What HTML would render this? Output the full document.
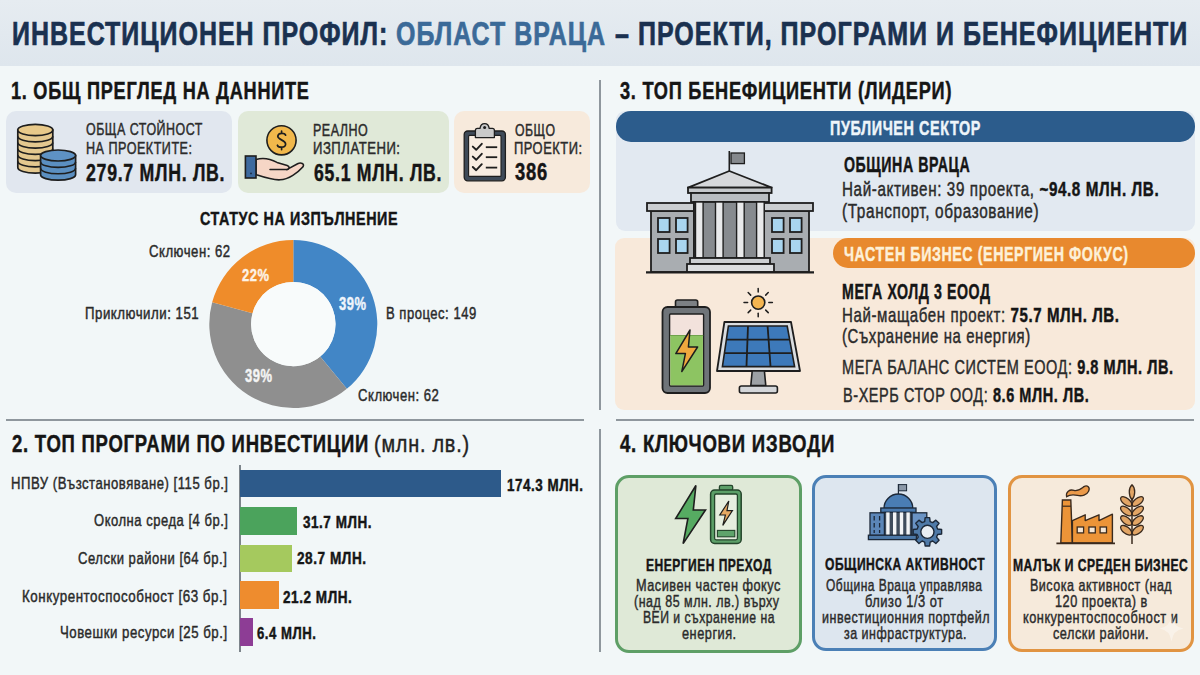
<!DOCTYPE html>
<html><head><meta charset="utf-8"><style>
*{margin:0;padding:0;box-sizing:border-box}
html,body{width:1200px;height:675px;overflow:hidden;background:#f2f7f8}
body{position:relative;font-family:"Liberation Sans",sans-serif}
.t{position:absolute;white-space:nowrap;transform-origin:0 0;-webkit-text-stroke-width:0.45px}
.r{position:absolute}
svg{position:absolute;left:0;top:0}
</style></head><body>
<div class="r" style="left:0;top:0;width:1200px;height:66px;background:linear-gradient(#e6ecf1,#dee6ed)"></div><div class="r" style="left:6px;top:111px;width:226px;height:82px;border-radius:10px;background:#e1e7ef"></div><div class="r" style="left:238px;top:111px;width:211px;height:82px;border-radius:10px;background:#e0e9d8"></div><div class="r" style="left:454px;top:111px;width:136px;height:82px;border-radius:10px;background:#f7eadc"></div><div class="r" style="left:599px;top:80px;width:2px;height:330px;background:#8f979d"></div><div class="r" style="left:599px;top:429px;width:2px;height:223px;background:#8f979d"></div><div class="r" style="left:6px;top:419px;width:578px;height:2px;background:#8f979d"></div><div class="r" style="left:616px;top:419px;width:578px;height:2px;background:#8f979d"></div><div class="r" style="left:616px;top:111px;width:579px;height:120px;border-radius:9px;background:#e2e9f1"></div><div class="r" style="left:615px;top:238px;width:580px;height:172px;border-radius:9px;background:#f8e9da"></div><div class="r" style="left:616px;top:111px;width:579px;height:30.5px;border-radius:15px;background:#2c5c8c"></div><div class="r" style="left:833px;top:238px;width:362px;height:30px;border-radius:15px;background:#e8892e"></div><div class="r" style="left:615px;top:475px;width:187px;height:178px;border-radius:14px;background:#dfe9d7;border:3px solid #5e9f66"></div><div class="r" style="left:812px;top:475px;width:185px;height:176px;border-radius:14px;background:#dde6ef;border:3px solid #4b80b6"></div><div class="r" style="left:1008px;top:475px;width:186px;height:177px;border-radius:14px;background:#f6eadb;border:3px solid #e19442"></div><div class="r" style="left:239px;top:465px;width:1.5px;height:187px;background:#7d858b"></div><div class="r" style="left:240px;top:470px;width:261px;height:27px;background:#2d5a8a"></div><div class="r" style="left:240px;top:507px;width:57px;height:28px;background:#4ba35c"></div><div class="r" style="left:240px;top:545px;width:52px;height:27px;background:#a5c95e"></div><div class="r" style="left:240px;top:581px;width:39px;height:28px;background:#ee8c2e"></div><div class="r" style="left:240px;top:618px;width:12.5px;height:27.5px;background:#8d3d95"></div><svg width="1200" height="675" viewBox="0 0 1200 675"><path d="M293.30 240.10A84.00 84.00 0 0 1 346.84 388.82L320.20 356.62A42.20 42.20 0 0 0 293.30 281.90Z" fill="#4286c6"/><path d="M346.84 388.82A84.00 84.00 0 0 1 212.16 302.36L252.54 313.18A42.20 42.20 0 0 0 320.20 356.62Z" fill="#8f8f8f"/><path d="M212.16 302.36A84.00 84.00 0 0 1 293.30 240.10L293.30 281.90A42.20 42.20 0 0 0 252.54 313.18Z" fill="#ef8c2a"/><circle cx="293.30" cy="324.10" r="42.20" fill="#f8fbfb"/><path d="M17.80 130.00 L17.80 167.50 A17.50 5.60 0 0 0 52.80 167.50 L52.80 130.00 Z" fill="#e4c88f" stroke="#1e1e1e" stroke-width="1.7"/><path d="M17.80 136.25 A17.50 5.60 0 0 0 52.80 136.25" fill="none" stroke="#1e1e1e" stroke-width="1.6"/><path d="M17.80 142.50 A17.50 5.60 0 0 0 52.80 142.50" fill="none" stroke="#1e1e1e" stroke-width="1.6"/><path d="M17.80 148.75 A17.50 5.60 0 0 0 52.80 148.75" fill="none" stroke="#1e1e1e" stroke-width="1.6"/><path d="M17.80 155.00 A17.50 5.60 0 0 0 52.80 155.00" fill="none" stroke="#1e1e1e" stroke-width="1.6"/><path d="M17.80 161.25 A17.50 5.60 0 0 0 52.80 161.25" fill="none" stroke="#1e1e1e" stroke-width="1.6"/><ellipse cx="35.30" cy="130.00" rx="17.50" ry="5.60" fill="#e8c98a" stroke="#1e1e1e" stroke-width="1.7"/><path d="M40.60 155.50 L40.60 174.70 A17.50 5.50 0 0 0 75.60 174.70 L75.60 155.50 Z" fill="#5b8fc1" stroke="#1e1e1e" stroke-width="1.7"/><path d="M40.60 161.90 A17.50 5.50 0 0 0 75.60 161.90" fill="none" stroke="#1e1e1e" stroke-width="1.6"/><path d="M40.60 168.30 A17.50 5.50 0 0 0 75.60 168.30" fill="none" stroke="#1e1e1e" stroke-width="1.6"/><ellipse cx="58.10" cy="155.50" rx="17.50" ry="5.50" fill="#5e92c4" stroke="#1e1e1e" stroke-width="1.7"/><circle cx="281.5" cy="140.3" r="14.6" fill="#f1b84b" stroke="#1e1e1e" stroke-width="1.6"/><path d="M285.6 135.2C285 132.6 278.2 132.4 277.8 136.2C277.4 139.8 285.8 140 285.6 144.2C285.4 148 278.2 148 277.4 145.2M281.6 131.2V133.2M281.6 147.6V149.6" fill="none" stroke="#1e1e1e" stroke-width="1.7" stroke-linecap="round"/><path d="M256 159.5C263 157.4 270 158.6 277 162.4L287.2 165.6C290 166.6 289.6 169.6 286.8 169.6L297.6 163.8C301 162 304.8 163.8 303 166.8C298 172.6 288.6 179.4 280 179.8C272 180.2 262 176.6 256 174.6Z" fill="#f6d6c6" stroke="#1e1e1e" stroke-width="1.6" stroke-linejoin="round"/><path d="M270 169.4L287 169.6" stroke="#1e1e1e" stroke-width="1.5" stroke-linecap="round"/><rect x="245.4" y="156" width="10.6" height="22" fill="#3e6a9e" stroke="#1e1e1e" stroke-width="1.6"/><circle cx="251" cy="173.4" r="0.9" fill="#1a2a40"/><rect x="464.2" y="131" width="41.2" height="49.8" rx="3.5" fill="#3e4a58" stroke="#1e1e1e" stroke-width="1.3"/><rect x="468.6" y="135.4" width="32.4" height="41" rx="1" fill="#f8ede2" stroke="#1e1e1e" stroke-width="1.1"/><path d="M475.4 137.6V130.4C475.4 129.2 476.2 128.4 477.4 128.4H480C480.4 125.4 482.2 123.6 484.6 123.6C487 123.6 488.8 125.4 489.2 128.4H492.4C493.6 128.4 494.4 129.2 494.4 130.4V137.6Z" fill="#c9c9c9" stroke="#1e1e1e" stroke-width="1.3" stroke-linejoin="round"/><circle cx="484.6" cy="127.6" r="1.5" fill="#1e1e1e"/><path d="M472.8 146.6L476.2 149.8L481.8 143.8" fill="none" stroke="#1e1e1e" stroke-width="1.9" stroke-linejoin="round" stroke-linecap="round"/><path d="M485.8 147.2H497.2" stroke="#1e1e1e" stroke-width="1.8"/><path d="M472.8 156.6L476.2 159.8L481.8 153.8" fill="none" stroke="#1e1e1e" stroke-width="1.9" stroke-linejoin="round" stroke-linecap="round"/><path d="M485.8 157.2H497.2" stroke="#1e1e1e" stroke-width="1.8"/><path d="M472.8 167.0L476.2 170.2L481.8 164.2" fill="none" stroke="#1e1e1e" stroke-width="1.9" stroke-linejoin="round" stroke-linecap="round"/><path d="M485.8 167.6H497.2" stroke="#1e1e1e" stroke-width="1.8"/><path d="M729.3 171V151" stroke="#1e1e1e" stroke-width="1.6"/><rect x="731" y="153" width="13.4" height="10.6" fill="#85898d" stroke="#1e1e1e" stroke-width="1.3"/><path d="M729.3 171L688 187.6H771.6Z" fill="#d6d8db" stroke="#1e1e1e" stroke-width="1.8" stroke-linejoin="round"/><rect x="688" y="187.6" width="83.6" height="5.4" fill="#c5c8cb" stroke="#1e1e1e" stroke-width="1.8"/><rect x="691" y="193" width="78" height="9" fill="#b9bdc1" stroke="#1e1e1e" stroke-width="1.8"/><rect x="651" y="211" width="43" height="61" fill="#a9adb1" stroke="#1e1e1e" stroke-width="1.8"/><rect x="764" y="211" width="45" height="61" fill="#a9adb1" stroke="#1e1e1e" stroke-width="1.8"/><rect x="647" y="203" width="47" height="8" fill="#cbced1" stroke="#1e1e1e" stroke-width="1.8"/><rect x="764" y="203" width="49" height="8" fill="#cbced1" stroke="#1e1e1e" stroke-width="1.8"/><rect x="694" y="202" width="70" height="56" fill="#878b8f" stroke="#1e1e1e" stroke-width="1.8"/><rect x="695.5" y="202" width="7.6" height="56" fill="#e9eaeb" stroke="#1e1e1e" stroke-width="1.4"/><rect x="715.5" y="202" width="7.6" height="56" fill="#e9eaeb" stroke="#1e1e1e" stroke-width="1.4"/><rect x="736.6" y="202" width="7.6" height="56" fill="#e9eaeb" stroke="#1e1e1e" stroke-width="1.4"/><rect x="756.6" y="202" width="7.6" height="56" fill="#e9eaeb" stroke="#1e1e1e" stroke-width="1.4"/><rect x="690" y="258" width="80" height="6" fill="#cdd0d3" stroke="#1e1e1e" stroke-width="1.8"/><rect x="687" y="264" width="87" height="8" fill="#dcdee0" stroke="#1e1e1e" stroke-width="1.8"/><rect x="658" y="218" width="11.6" height="14" fill="#a9d5ef" stroke="#1e1e1e" stroke-width="1.8"/><rect x="658" y="239" width="11.6" height="14" fill="#a9d5ef" stroke="#1e1e1e" stroke-width="1.8"/><rect x="676" y="218" width="11.6" height="14" fill="#a9d5ef" stroke="#1e1e1e" stroke-width="1.8"/><rect x="676" y="239" width="11.6" height="14" fill="#a9d5ef" stroke="#1e1e1e" stroke-width="1.8"/><rect x="772" y="218" width="11.6" height="14" fill="#a9d5ef" stroke="#1e1e1e" stroke-width="1.8"/><rect x="772" y="239" width="11.6" height="14" fill="#a9d5ef" stroke="#1e1e1e" stroke-width="1.8"/><rect x="790" y="218" width="11.6" height="14" fill="#a9d5ef" stroke="#1e1e1e" stroke-width="1.8"/><rect x="790" y="239" width="11.6" height="14" fill="#a9d5ef" stroke="#1e1e1e" stroke-width="1.8"/><path d="M646 272.4H814" stroke="#1e1e1e" stroke-width="2.2"/><rect x="675.5" y="300" width="22.2" height="8" rx="2" fill="#7c8084" stroke="#1e1e1e" stroke-width="1.6"/><rect x="662.5" y="307" width="47.5" height="86" rx="5" fill="#6f7479" stroke="#1e1e1e" stroke-width="1.8"/><rect x="669.6" y="314" width="34" height="72" rx="1" fill="#f2e2dc" stroke="#1e1e1e" stroke-width="1.4"/><rect x="670.3" y="335.5" width="32.6" height="49.8" fill="#8dc462"/><path d="M670 335.5H703.2" stroke="#6fa24c" stroke-width="1"/><path d="M690 330L675.8 353.6H685.4L681.8 371.6L697.6 347H688.4Z" fill="#f0a83e" stroke="#1e1e1e" stroke-width="1.5" stroke-linejoin="round"/><circle cx="758.2" cy="302.6" r="6.6" fill="#f4b550" stroke="#1e1e1e" stroke-width="1.6"/><path d="M758.20 292.00L758.20 288.40" stroke="#1e1e1e" stroke-width="1.5" stroke-linecap="round"/><path d="M765.70 295.10L768.24 292.56" stroke="#1e1e1e" stroke-width="1.5" stroke-linecap="round"/><path d="M768.80 302.60L772.40 302.60" stroke="#1e1e1e" stroke-width="1.5" stroke-linecap="round"/><path d="M765.70 310.10L768.24 312.64" stroke="#1e1e1e" stroke-width="1.5" stroke-linecap="round"/><path d="M758.20 313.20L758.20 316.80" stroke="#1e1e1e" stroke-width="1.5" stroke-linecap="round"/><path d="M750.70 310.10L748.16 312.64" stroke="#1e1e1e" stroke-width="1.5" stroke-linecap="round"/><path d="M747.60 302.60L744.00 302.60" stroke="#1e1e1e" stroke-width="1.5" stroke-linecap="round"/><path d="M750.70 295.10L748.16 292.56" stroke="#1e1e1e" stroke-width="1.5" stroke-linecap="round"/><path d="M724.4 322H791L800 371H717Z" fill="#dadde0" stroke="#1e1e1e" stroke-width="1.8" stroke-linejoin="round"/><path d="M728.4 326H787.2L794.6 366.6H722.4Z" fill="#3d79ba" stroke="#1e1e1e" stroke-width="1.6"/><path d="M726.40 339.53H789.67" stroke="#1e1e1e" stroke-width="1.8"/><path d="M748.00 326L746.47 366.6" stroke="#1e1e1e" stroke-width="1.8"/><path d="M724.40 353.07H792.13" stroke="#1e1e1e" stroke-width="1.8"/><path d="M767.60 326L770.53 366.6" stroke="#1e1e1e" stroke-width="1.8"/><path d="M752.2 371H764.4L765.8 385.6H750.8Z" fill="#9da1a5" stroke="#1e1e1e" stroke-width="1.6"/><rect x="739.4" y="386" width="38" height="7" rx="2" fill="#d4d6d9" stroke="#1e1e1e" stroke-width="1.6"/><path d="M695.9 485.5L675.7 518.5H687.9L683.1 543.6L705.5 510H693.3Z" fill="#56ab62" stroke="#1e1e1e" stroke-width="1.6" stroke-linejoin="miter"/><rect x="719.4" y="485.4" width="13.3" height="5" rx="1.5" fill="#5c9f68" stroke="#24452b" stroke-width="1.3"/><rect x="710.6" y="490" width="30.6" height="53.4" rx="4" fill="#5c9f68" stroke="#24452b" stroke-width="1.5"/><rect x="714.6" y="494" width="22.8" height="45.8" rx="1.5" fill="#e6eedf" stroke="#24452b" stroke-width="1.3"/><rect x="717.4" y="530.4" width="17.4" height="6.4" fill="#5fa46b" stroke="#24452b" stroke-width="1.1"/><path d="M728.8 501L719.8 515H725.4L722.8 525.4L732.4 510.6H727Z" fill="#e6a963" stroke="#1e1e1e" stroke-width="1.2" stroke-linejoin="miter"/><path d="M898.4 498V484" stroke="#1c2838" stroke-width="1.2"/><rect x="898.6" y="484.6" width="8" height="6.2" fill="#8b98a8" stroke="#1c2838" stroke-width="1"/><path d="M884 508.4A14.4 14.4 0 0 1 912.8 508.4Z" fill="#4a7db4" stroke="#1c2838" stroke-width="1.4"/><rect x="870" y="512.8" width="14.6" height="22.6" fill="#5b86b8" stroke="#1c2838" stroke-width="1.3"/><rect x="911.8" y="512.8" width="15" height="22.6" fill="#6a93c4" stroke="#1c2838" stroke-width="1.3"/><path d="M874.2 516V520.4M874.2 523V527.4M874.2 530V533" stroke="#1c2838" stroke-width="1.3"/><path d="M879.6 516V520.4M879.6 523V527.4M879.6 530V533" stroke="#1c2838" stroke-width="1.3"/><rect x="880.8" y="508" width="35.2" height="4.4" fill="#4a79ad" stroke="#1c2838" stroke-width="1.3"/><rect x="884.4" y="512.4" width="27.4" height="23" fill="#3f4c5c" stroke="#1c2838" stroke-width="1.2"/><rect x="886.2" y="512.4" width="3.4" height="23" fill="#f2f4f6"/><rect x="893.0" y="512.4" width="3.4" height="23" fill="#f2f4f6"/><rect x="899.8" y="512.4" width="3.4" height="23" fill="#f2f4f6"/><rect x="906.4" y="512.4" width="3.4" height="23" fill="#f2f4f6"/><rect x="868.4" y="535.2" width="48" height="4.4" fill="#4d79a8" stroke="#1c2838" stroke-width="1.3"/><path d="M924.66 521.56L925.15 517.58L929.65 517.58L930.14 521.56L932.70 522.62L935.86 520.15L939.05 523.34L936.58 526.50L937.64 529.06L941.62 529.55L941.62 534.05L937.64 534.54L936.58 537.10L939.05 540.26L935.86 543.45L932.70 540.98L930.14 542.04L929.65 546.02L925.15 546.02L924.66 542.04L922.10 540.98L918.94 543.45L915.75 540.26L918.22 537.10L917.16 534.54L913.18 534.05L913.18 529.55L917.16 529.06L918.22 526.50L915.75 523.34L918.94 520.15L922.10 522.62Z" fill="#4f7aa8" stroke="#1c2838" stroke-width="1.4" stroke-linejoin="round"/><circle cx="927.40" cy="531.80" r="6.6" fill="#e9eef3" stroke="#1c2838" stroke-width="1.4"/><path d="M1066.6 496.6C1065.6 492 1069.6 489 1074 490.4C1078 491.6 1081.4 488.4 1084 486.6C1087.4 484.6 1090.4 487.6 1088.6 491.2C1086.8 495 1082 496.4 1077.6 495.4C1073 494.4 1069.6 494.6 1066.6 496.6Z" fill="#eb9a4a" stroke="#3a2a1e" stroke-width="1.3"/><path d="M1062.4 500H1070.8L1072.4 543H1060.8Z" fill="#ec9438" stroke="#3a2a1e" stroke-width="1.4"/><path d="M1062.2 506.2H1071" stroke="#3a2a1e" stroke-width="1.2"/><path d="M1072.4 520.6L1085.2 514.8V520.6L1099 514.8V520.6L1112.4 514.2V543H1072.4Z" fill="#ec9438" stroke="#3a2a1e" stroke-width="1.4" stroke-linejoin="round"/><rect x="1077.2" y="527" width="6.4" height="5.9" fill="#f6e7d6" stroke="#3a2a1e" stroke-width="1.3"/><rect x="1088.9" y="527" width="6.4" height="5.9" fill="#f6e7d6" stroke="#3a2a1e" stroke-width="1.3"/><rect x="1100.1" y="527" width="6.4" height="5.9" fill="#f6e7d6" stroke="#3a2a1e" stroke-width="1.3"/><path d="M1056.4 543.4H1115" stroke="#3a2a1e" stroke-width="1.6"/><path d="M1132 484.8C1135.6 488 1135.6 496 1132 500C1128.4 496 1128.4 488 1132 484.8Z" fill="#e2a565" stroke="#3a2a1e" stroke-width="1.3"/><ellipse cx="1126.2" cy="501.5" rx="6.6" ry="3.3" transform="rotate(38 1126.2 501.5)" fill="#e2a565" stroke="#3a2a1e" stroke-width="1.3"/><ellipse cx="1137.8" cy="501.5" rx="6.6" ry="3.3" transform="rotate(-38 1137.8 501.5)" fill="#e2a565" stroke="#3a2a1e" stroke-width="1.3"/><ellipse cx="1126.2" cy="511.0" rx="6.6" ry="3.3" transform="rotate(38 1126.2 511.0)" fill="#e2a565" stroke="#3a2a1e" stroke-width="1.3"/><ellipse cx="1137.8" cy="511.0" rx="6.6" ry="3.3" transform="rotate(-38 1137.8 511.0)" fill="#e2a565" stroke="#3a2a1e" stroke-width="1.3"/><ellipse cx="1126.2" cy="520.6" rx="6.6" ry="3.3" transform="rotate(38 1126.2 520.6)" fill="#e2a565" stroke="#3a2a1e" stroke-width="1.3"/><ellipse cx="1137.8" cy="520.6" rx="6.6" ry="3.3" transform="rotate(-38 1137.8 520.6)" fill="#e2a565" stroke="#3a2a1e" stroke-width="1.3"/><ellipse cx="1126.2" cy="530.2" rx="6.6" ry="3.3" transform="rotate(38 1126.2 530.2)" fill="#e2a565" stroke="#3a2a1e" stroke-width="1.3"/><ellipse cx="1137.8" cy="530.2" rx="6.6" ry="3.3" transform="rotate(-38 1137.8 530.2)" fill="#e2a565" stroke="#3a2a1e" stroke-width="1.3"/><path d="M1132 498V544" stroke="#3a2a1e" stroke-width="1.5"/></svg>
<div class="t" style="left:12.20px;top:17.23px;font-size:33.14px;line-height:33.14px;letter-spacing:0.040em;transform:scaleX(0.7539);color:#1a3150;-webkit-text-stroke-width:0.7px"><span style="font-weight:700">ИНВЕСТИЦИОНЕН ПРОФИЛ:</span></div>
<div class="t" style="left:395.70px;top:17.23px;font-size:33.14px;line-height:33.14px;letter-spacing:0.040em;transform:scaleX(0.7533);color:#3b6a98;-webkit-text-stroke-width:0.7px"><span style="font-weight:700">ОБЛАСТ ВРАЦА</span></div>
<div class="t" style="left:614.50px;top:17.23px;font-size:33.14px;line-height:33.14px;letter-spacing:0.040em;transform:scaleX(0.7560);color:#1a3150;-webkit-text-stroke-width:0.7px"><span style="font-weight:700">– ПРОЕКТИ, ПРОГРАМИ И БЕНЕФИЦИЕНТИ</span></div>
<div class="t" style="left:11.20px;top:78.94px;font-size:24.13px;line-height:24.13px;letter-spacing:0.040em;transform:scaleX(0.7523);color:#151515;"><span style="font-weight:700">1. ОБЩ ПРЕГЛЕД НА ДАННИТЕ</span></div>
<div class="t" style="left:619.50px;top:78.94px;font-size:24.13px;line-height:24.13px;letter-spacing:0.040em;transform:scaleX(0.7550);color:#151515;"><span style="font-weight:700">3. ТОП БЕНЕФИЦИЕНТИ (ЛИДЕРИ)</span></div>
<div class="t" style="left:11.64px;top:431.66px;font-size:24.13px;line-height:24.13px;letter-spacing:0.040em;transform:scaleX(0.7678);color:#151515;"><span style="font-weight:700">2. ТОП ПРОГРАМИ ПО ИНВЕСТИЦИИ</span></div>
<div class="t" style="left:373.70px;top:431.66px;font-size:24.13px;line-height:24.13px;letter-spacing:0.040em;transform:scaleX(0.8211);color:#222;"><span style="font-weight:400">(млн. лв.)</span></div>
<div class="t" style="left:619.50px;top:431.66px;font-size:24.13px;line-height:24.13px;letter-spacing:0.040em;transform:scaleX(0.7718);color:#151515;"><span style="font-weight:700">4. КЛЮЧОВИ ИЗВОДИ</span></div>
<div class="t" style="left:86.42px;top:121.28px;font-size:16.28px;line-height:16.28px;letter-spacing:0.040em;transform:scaleX(0.7654);color:#2b2b2b;"><span style="font-weight:400">ОБЩА СТОЙНОСТ</span></div>
<div class="t" style="left:85.62px;top:141.43px;font-size:15.70px;line-height:15.70px;letter-spacing:0.040em;transform:scaleX(0.8018);color:#2b2b2b;"><span style="font-weight:400">НА ПРОЕКТИТЕ:</span></div>
<div class="t" style="left:86.25px;top:160.64px;font-size:24.13px;line-height:24.13px;letter-spacing:0.040em;transform:scaleX(0.7346);color:#151515;"><span style="font-weight:700">279.7 МЛН. ЛВ.</span></div>
<div class="t" style="left:312.95px;top:121.50px;font-size:16.28px;line-height:16.28px;letter-spacing:0.040em;transform:scaleX(0.7687);color:#2b2b2b;"><span style="font-weight:400">РЕАЛНО</span></div>
<div class="t" style="left:312.95px;top:141.43px;font-size:15.70px;line-height:15.70px;letter-spacing:0.040em;transform:scaleX(0.8348);color:#2b2b2b;"><span style="font-weight:400">ИЗПЛАТЕНИ:</span></div>
<div class="t" style="left:313.75px;top:160.64px;font-size:24.13px;line-height:24.13px;letter-spacing:0.040em;transform:scaleX(0.7319);color:#151515;"><span style="font-weight:700">65.1 МЛН. ЛВ.</span></div>
<div class="t" style="left:514.53px;top:121.72px;font-size:16.28px;line-height:16.28px;letter-spacing:0.040em;transform:scaleX(0.7545);color:#2b2b2b;"><span style="font-weight:400">ОБЩО</span></div>
<div class="t" style="left:513.73px;top:140.22px;font-size:16.28px;line-height:16.28px;letter-spacing:0.040em;transform:scaleX(0.7920);color:#2b2b2b;"><span style="font-weight:400">ПРОЕКТИ:</span></div>
<div class="t" style="left:514.53px;top:161.27px;font-size:23.55px;line-height:23.55px;letter-spacing:0.040em;transform:scaleX(0.7804);color:#151515;"><span style="font-weight:700">386</span></div>
<div class="t" style="left:200.00px;top:209.53px;font-size:18.90px;line-height:18.90px;letter-spacing:0.040em;transform:scaleX(0.7597);color:#151515;"><span style="font-weight:700">СТАТУС НА ИЗПЪЛНЕНИЕ</span></div>
<div class="t" style="left:149.00px;top:244.29px;font-size:15.70px;line-height:15.70px;letter-spacing:0.040em;transform:scaleX(0.8373);color:#2b2b2b;"><span style="font-weight:400">Сключен: 62</span></div>
<div class="t" style="left:85.34px;top:306.03px;font-size:15.84px;line-height:15.84px;letter-spacing:0.040em;transform:scaleX(0.8355);color:#2b2b2b;"><span style="font-weight:400">Приключили: 151</span></div>
<div class="t" style="left:385.56px;top:304.58px;font-size:16.28px;line-height:16.28px;letter-spacing:0.040em;transform:scaleX(0.8011);color:#2b2b2b;"><span style="font-weight:400">В процес: 149</span></div>
<div class="t" style="left:358.14px;top:388.33px;font-size:15.99px;line-height:15.99px;letter-spacing:0.040em;transform:scaleX(0.8190);color:#2b2b2b;"><span style="font-weight:400">Сключен: 62</span></div>
<div class="t" style="left:242.00px;top:268.15px;font-size:16.72px;line-height:16.72px;letter-spacing:0.040em;transform:scaleX(0.7747);color:#fdf3e6;"><span style="font-weight:700">22%</span></div>
<div class="t" style="left:338.64px;top:296.04px;font-size:17.44px;line-height:17.44px;letter-spacing:0.040em;transform:scaleX(0.7433);color:#eef4fb;"><span style="font-weight:700">39%</span></div>
<div class="t" style="left:245.00px;top:367.68px;font-size:17.44px;line-height:17.44px;letter-spacing:0.040em;transform:scaleX(0.7433);color:#f4f4f4;"><span style="font-weight:700">39%</span></div>
<div class="t" style="left:11.20px;top:475.61px;font-size:16.86px;line-height:16.86px;letter-spacing:0.040em;transform:scaleX(0.7771);color:#2a2a2a;"><span style="font-weight:400">НПВУ (Възстановяване) [115 бр.]</span></div>
<div class="t" style="left:94.00px;top:513.41px;font-size:16.57px;line-height:16.57px;letter-spacing:0.040em;transform:scaleX(0.7856);color:#2a2a2a;"><span style="font-weight:400">Околна среда [4 бр.]</span></div>
<div class="t" style="left:78.14px;top:550.10px;font-size:16.42px;line-height:16.42px;letter-spacing:0.040em;transform:scaleX(0.7946);color:#2a2a2a;"><span style="font-weight:400">Селски райони [64 бр.]</span></div>
<div class="t" style="left:22.34px;top:588.61px;font-size:16.86px;line-height:16.86px;letter-spacing:0.040em;transform:scaleX(0.7918);color:#2a2a2a;"><span style="font-weight:400">Конкурентоспособност [63 бр.]</span></div>
<div class="t" style="left:60.26px;top:625.25px;font-size:16.86px;line-height:16.86px;letter-spacing:0.040em;transform:scaleX(0.7840);color:#2a2a2a;"><span style="font-weight:400">Човешки ресурси [25 бр.]</span></div>
<div class="t" style="left:506.70px;top:476.54px;font-size:17.01px;line-height:17.01px;letter-spacing:0.040em;transform:scaleX(0.7881);color:#151515;"><span style="font-weight:700">174.3 МЛН.</span></div>
<div class="t" style="left:302.50px;top:513.64px;font-size:16.28px;line-height:16.28px;letter-spacing:0.040em;transform:scaleX(0.8288);color:#151515;"><span style="font-weight:700">31.7 МЛН.</span></div>
<div class="t" style="left:296.86px;top:550.28px;font-size:16.28px;line-height:16.28px;letter-spacing:0.040em;transform:scaleX(0.8359);color:#151515;"><span style="font-weight:700">28.7 МЛН.</span></div>
<div class="t" style="left:283.14px;top:588.58px;font-size:16.28px;line-height:16.28px;letter-spacing:0.040em;transform:scaleX(0.8323);color:#151515;"><span style="font-weight:700">21.2 МЛН.</span></div>
<div class="t" style="left:257.00px;top:624.86px;font-size:16.28px;line-height:16.28px;letter-spacing:0.040em;transform:scaleX(0.8088);color:#151515;"><span style="font-weight:700">6.4 МЛН.</span></div>
<div class="t" style="left:829.72px;top:117.71px;font-size:20.64px;line-height:20.64px;letter-spacing:0.040em;transform:scaleX(0.6986);color:#eef5fa;"><span style="font-weight:700">ПУБЛИЧЕН СЕКТОР</span></div>
<div class="t" style="left:843.86px;top:154.32px;font-size:21.22px;line-height:21.22px;letter-spacing:0.040em;transform:scaleX(0.6676);color:#151515;"><span style="font-weight:700">ОБЩИНА ВРАЦА</span></div>
<div class="t" style="left:842.26px;top:180.47px;font-size:19.77px;line-height:19.77px;letter-spacing:0.040em;transform:scaleX(0.7693);color:#2b2b2b;"><span style="font-weight:400">Най-активен: 39 проекта, </span><span style="font-weight:700;color:#151515">~94.8 МЛН. ЛВ.</span></div>
<div class="t" style="left:842.26px;top:201.95px;font-size:19.77px;line-height:19.77px;letter-spacing:0.040em;transform:scaleX(0.7760);color:#2b2b2b;"><span style="font-weight:400">(Транспорт, образование)</span></div>
<div class="t" style="left:843.86px;top:244.58px;font-size:19.33px;line-height:19.33px;letter-spacing:0.040em;transform:scaleX(0.7371);color:#fdf0d8;"><span style="font-weight:700">ЧАСТЕН БИЗНЕС (ЕНЕРГИЕН ФОКУС)</span></div>
<div class="t" style="left:842.26px;top:281.28px;font-size:21.22px;line-height:21.22px;letter-spacing:0.040em;transform:scaleX(0.6683);color:#151515;"><span style="font-weight:700">МЕГА ХОЛД 3 ЕООД</span></div>
<div class="t" style="left:842.26px;top:305.16px;font-size:20.06px;line-height:20.06px;letter-spacing:0.040em;transform:scaleX(0.7496);color:#2b2b2b;"><span style="font-weight:400">Най-мащабен проект: </span><span style="font-weight:700;color:#151515">75.7 МЛН. ЛВ.</span></div>
<div class="t" style="left:842.26px;top:325.98px;font-size:20.06px;line-height:20.06px;letter-spacing:0.040em;transform:scaleX(0.7434);color:#2b2b2b;"><span style="font-weight:400">(Съхранение на енергия)</span></div>
<div class="t" style="left:842.26px;top:356.74px;font-size:20.06px;line-height:20.06px;letter-spacing:0.040em;transform:scaleX(0.7222);color:#2b2b2b;"><span style="font-weight:400">МЕГА БАЛАНС СИСТЕМ ЕООД: </span><span style="font-weight:700;color:#151515">9.8 МЛН. ЛВ.</span></div>
<div class="t" style="left:843.34px;top:385.42px;font-size:20.20px;line-height:20.20px;letter-spacing:0.040em;transform:scaleX(0.7168);color:#2b2b2b;"><span style="font-weight:400">В-ХЕРБ СТОР ООД: </span><span style="font-weight:700;color:#151515">8.6 МЛН. ЛВ.</span></div>
<div class="t" style="left:645.70px;top:556.64px;font-size:17.15px;line-height:17.15px;letter-spacing:0.040em;transform:scaleX(0.7026);color:#151515;"><span style="font-weight:700">ЕНЕРГИЕН ПРЕХОД</span></div>
<div class="t" style="left:635.70px;top:577.85px;font-size:16.57px;line-height:16.57px;letter-spacing:0.040em;transform:scaleX(0.7677);color:#2b2b2b;"><span style="font-weight:400">Масивен частен фокус</span></div>
<div class="t" style="left:634.26px;top:592.60px;font-size:17.01px;line-height:17.01px;letter-spacing:0.040em;transform:scaleX(0.7337);color:#2b2b2b;"><span style="font-weight:400">(над 85 млн. лв.) върху</span></div>
<div class="t" style="left:642.56px;top:608.82px;font-size:17.01px;line-height:17.01px;letter-spacing:0.040em;transform:scaleX(0.7169);color:#2b2b2b;"><span style="font-weight:400">ВЕИ и съхранение на</span></div>
<div class="t" style="left:682.36px;top:624.96px;font-size:17.01px;line-height:17.01px;letter-spacing:0.040em;transform:scaleX(0.7506);color:#2b2b2b;"><span style="font-weight:400">енергия.</span></div>
<div class="t" style="left:824.75px;top:556.20px;font-size:17.15px;line-height:17.15px;letter-spacing:0.040em;transform:scaleX(0.7063);color:#151515;"><span style="font-weight:700">ОБЩИНСКА АКТИВНОСТ</span></div>
<div class="t" style="left:825.50px;top:577.85px;font-size:16.57px;line-height:16.57px;letter-spacing:0.040em;transform:scaleX(0.7232);color:#2b2b2b;"><span style="font-weight:400">Община Враца управлява</span></div>
<div class="t" style="left:864.56px;top:592.60px;font-size:17.01px;line-height:17.01px;letter-spacing:0.040em;transform:scaleX(0.7591);color:#2b2b2b;"><span style="font-weight:400">близо 1/3 от</span></div>
<div class="t" style="left:821.70px;top:608.82px;font-size:17.01px;line-height:17.01px;letter-spacing:0.040em;transform:scaleX(0.7371);color:#2b2b2b;"><span style="font-weight:400">инвестиционния портфейл</span></div>
<div class="t" style="left:843.50px;top:624.96px;font-size:17.01px;line-height:17.01px;letter-spacing:0.040em;transform:scaleX(0.7332);color:#2b2b2b;"><span style="font-weight:400">за инфраструктура.</span></div>
<div class="t" style="left:1013.48px;top:556.66px;font-size:17.30px;line-height:17.30px;letter-spacing:0.040em;transform:scaleX(0.7002);color:#151515;"><span style="font-weight:700">МАЛЪК И СРЕДЕН БИЗНЕС</span></div>
<div class="t" style="left:1029.84px;top:577.85px;font-size:16.57px;line-height:16.57px;letter-spacing:0.040em;transform:scaleX(0.7564);color:#2b2b2b;"><span style="font-weight:400">Висока активност (над</span></div>
<div class="t" style="left:1054.70px;top:592.60px;font-size:17.01px;line-height:17.01px;letter-spacing:0.040em;transform:scaleX(0.7468);color:#2b2b2b;"><span style="font-weight:400">120 проекта) в</span></div>
<div class="t" style="left:1022.62px;top:608.82px;font-size:17.01px;line-height:17.01px;letter-spacing:0.040em;transform:scaleX(0.7498);color:#2b2b2b;"><span style="font-weight:400">конкурентоспособност и</span></div>
<div class="t" style="left:1052.72px;top:624.96px;font-size:17.01px;line-height:17.01px;letter-spacing:0.040em;transform:scaleX(0.7480);color:#2b2b2b;"><span style="font-weight:400">селски райони.</span></div>
<svg width="1200" height="675" viewBox="0 0 1200 675"><path d="M1171.5 615.5Q1173.0 627.0 1183.5 628.5Q1173.0 630.0 1171.5 641.5Q1170.0 630.0 1159.5 628.5Q1170.0 627.0 1171.5 615.5Z" fill="#ffffff" opacity="0.4"/></svg>
</body></html>
